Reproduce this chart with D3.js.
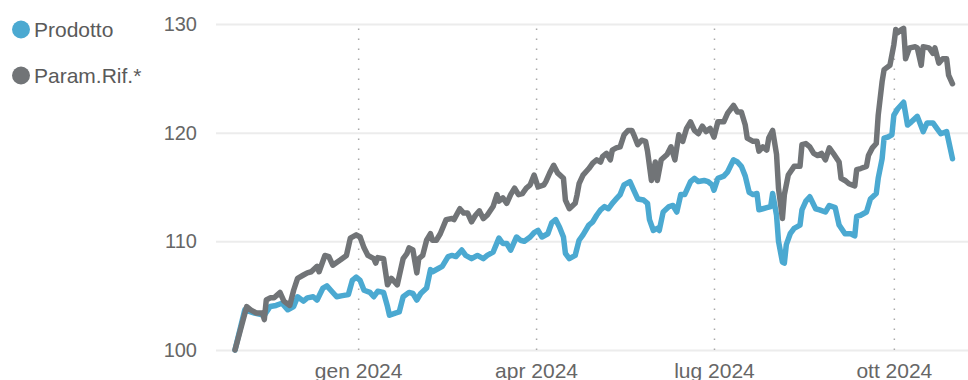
<!DOCTYPE html>
<html>
  <head>
    <meta charset="UTF-8">
    <title>Prodotto vs Param.Rif.</title>
    <style>
    body {
      margin: 0;
      background: #fff;
    }
    svg {
      display: block;
      font-family: "Liberation Sans", Arial, sans-serif;
    }
    .grid line {
      stroke: #ececec;
      stroke-width: 2px;
    }
    .yaxis text {
      font-size: 20px;
      fill: #666;
    }
    .xaxis text {
      font-size: 21px;
      fill: #666;
    }
    .xaxis line {
      stroke: #aaa;
      stroke-width: 1.5px;
      stroke-dasharray: 1.5 8.5;
    }
    .domain {
      display: none;
    }
    .legend text {
      font-size: 21px;
      fill: #5a5a5a;
    }
    .series {
      fill: none;
      stroke-width: 5.5px;
      stroke-linejoin: round;
      stroke-linecap: round;
    }
    </style>
  </head>
  <body>
    <svg width="968" height="380"></svg>
    <script src="https://d3js.org/d3.v7.min.js"></script>
    <script>
// legend / series names
var seriesNames = ["Prodotto", "Param.Rif.*"];
var seriesColors = ["#4ba9d1", "#717477"];

// y ticks and x ticks
var yTicks = [100, 110, 120, 130];
var xTicks = ["2024-01-01", "2024-04-01", "2024-07-01", "2024-10-01"];

// Prodotto
var prodDates = [
  "2023-10-30", "2023-11-04", "2023-11-09", "2023-11-14", "2023-11-17", "2023-11-20", "2023-11-23",
  "2023-11-26", "2023-11-29", "2023-12-01", "2023-12-04", "2023-12-06", "2023-12-09", "2023-12-11",
  "2023-12-14", "2023-12-16", "2023-12-18", "2023-12-21", "2023-12-24", "2023-12-27", "2023-12-29",
  "2023-12-31", "2024-01-02", "2024-01-04", "2024-01-07", "2024-01-09", "2024-01-11", "2024-01-14",
  "2024-01-16", "2024-01-17", "2024-01-20", "2024-01-22", "2024-01-24", "2024-01-27", "2024-01-29",
  "2024-01-31", "2024-02-02", "2024-02-05", "2024-02-07", "2024-02-08", "2024-02-11", "2024-02-13",
  "2024-02-16", "2024-02-18", "2024-02-20", "2024-02-23", "2024-02-25", "2024-02-28", "2024-03-02",
  "2024-03-05", "2024-03-07", "2024-03-10", "2024-03-13", "2024-03-15", "2024-03-17", "2024-03-19",
  "2024-03-22", "2024-03-24", "2024-03-26", "2024-03-29", "2024-03-31", "2024-04-02", "2024-04-04",
  "2024-04-07", "2024-04-09", "2024-04-11", "2024-04-13", "2024-04-15", "2024-04-16", "2024-04-18",
  "2024-04-21", "2024-04-23", "2024-04-25", "2024-04-28", "2024-04-30", "2024-05-02", "2024-05-04",
  "2024-05-06", "2024-05-08", "2024-05-10", "2024-05-12", "2024-05-14", "2024-05-16", "2024-05-19",
  "2024-05-21", "2024-05-23", "2024-05-26", "2024-05-28", "2024-05-29", "2024-05-31", "2024-06-02",
  "2024-06-03", "2024-06-05", "2024-06-08", "2024-06-10", "2024-06-12", "2024-06-14", "2024-06-16",
  "2024-06-17", "2024-06-19", "2024-06-21", "2024-06-23", "2024-06-26", "2024-06-28", "2024-06-30",
  "2024-07-01", "2024-07-03", "2024-07-06", "2024-07-08", "2024-07-11", "2024-07-13", "2024-07-15",
  "2024-07-17", "2024-07-19", "2024-07-21", "2024-07-23", "2024-07-24", "2024-07-26", "2024-07-28",
  "2024-07-30", "2024-07-31", "2024-08-02", "2024-08-03", "2024-08-05", "2024-08-06", "2024-08-07",
  "2024-08-09", "2024-08-11", "2024-08-14", "2024-08-15", "2024-08-17", "2024-08-19", "2024-08-22",
  "2024-08-24", "2024-08-27", "2024-08-29", "2024-09-01", "2024-09-03", "2024-09-06", "2024-09-09",
  "2024-09-11", "2024-09-12", "2024-09-14", "2024-09-17", "2024-09-19", "2024-09-22", "2024-09-23",
  "2024-09-25", "2024-09-26", "2024-09-28", "2024-09-30", "2024-10-01", "2024-10-03", "2024-10-06",
  "2024-10-08", "2024-10-10", "2024-10-13", "2024-10-16", "2024-10-18", "2024-10-21", "2024-10-23",
  "2024-10-25", "2024-10-28", "2024-10-31"
];
var prodValues = [
  100.0, 103.7, 103.4, 103.2, 104.0, 104.1, 104.3,
  103.7, 104.0, 104.9, 104.5, 104.8, 104.9, 104.6,
  105.7, 105.9, 105.5, 104.9, 105.0, 105.1, 106.4,
  106.7, 106.4, 105.5, 105.3, 104.9, 105.4, 105.3,
  104.0, 103.2, 103.4, 103.5, 104.9, 105.3, 105.2,
  104.6, 105.2, 105.7, 107.4, 107.2, 107.5, 107.7,
  108.6, 108.7, 108.6, 109.2, 108.7, 108.4, 108.7,
  108.4, 108.7, 109.0, 110.3, 109.8, 109.8, 109.2,
  110.4, 110.1, 110.0, 110.4, 110.8, 111.0, 110.4,
  110.7, 111.7, 112.0, 111.3, 110.4, 108.9, 108.4,
  108.7, 110.1, 110.6, 111.5, 111.8, 112.4, 112.9,
  113.2, 113.0, 113.5, 113.9, 114.3, 115.2, 115.5,
  114.7, 113.9, 113.8, 113.5, 112.0, 111.0, 111.2,
  111.0, 112.7, 113.2, 113.3, 112.7, 114.3, 114.3,
  114.7, 115.5, 115.8, 115.5, 115.6, 115.5, 115.2,
  114.7, 115.8, 116.0, 116.4, 117.5, 117.3, 116.9,
  116.0, 114.5, 114.3, 114.4, 112.9, 113.0, 113.1,
  113.2, 114.4, 112.4, 110.0, 108.1, 108.0, 109.7,
  110.7, 111.2, 111.5, 112.9, 113.7, 114.1, 113.0,
  112.9, 112.7, 113.3, 113.1, 111.5, 110.7, 110.7,
  110.5, 112.3, 112.4, 112.7, 113.9, 114.4, 115.8,
  117.6, 119.5, 119.6, 119.8, 121.6, 122.2, 122.8,
  120.7, 121.0, 121.5, 120.1, 120.9, 120.9, 120.4,
  119.9, 120.1, 117.6
];

// Param.Rif.*
var refDates = [
  "2023-10-30", "2023-11-05", "2023-11-07", "2023-11-10", "2023-11-13", "2023-11-14", "2023-11-15",
  "2023-11-17", "2023-11-19", "2023-11-22", "2023-11-24", "2023-11-27", "2023-11-29", "2023-12-01",
  "2023-12-04", "2023-12-06", "2023-12-08", "2023-12-11", "2023-12-12", "2023-12-15", "2023-12-17",
  "2023-12-19", "2023-12-23", "2023-12-26", "2023-12-28", "2023-12-31", "2024-01-02", "2024-01-04",
  "2024-01-06", "2024-01-09", "2024-01-10", "2024-01-11", "2024-01-14", "2024-01-16", "2024-01-18",
  "2024-01-21", "2024-01-22", "2024-01-24", "2024-01-26", "2024-01-27", "2024-01-29", "2024-01-31",
  "2024-02-01", "2024-02-03", "2024-02-05", "2024-02-07", "2024-02-08", "2024-02-10", "2024-02-12",
  "2024-02-15", "2024-02-18", "2024-02-19", "2024-02-22", "2024-02-24", "2024-02-26", "2024-02-28",
  "2024-03-01", "2024-03-03", "2024-03-05", "2024-03-07", "2024-03-10", "2024-03-12", "2024-03-13",
  "2024-03-15", "2024-03-17", "2024-03-19", "2024-03-21", "2024-03-23", "2024-03-25", "2024-03-27",
  "2024-03-29", "2024-03-31", "2024-04-02", "2024-04-05", "2024-04-06", "2024-04-08", "2024-04-10",
  "2024-04-12", "2024-04-15", "2024-04-16", "2024-04-18", "2024-04-21", "2024-04-22", "2024-04-23",
  "2024-04-25", "2024-04-28", "2024-04-30", "2024-05-02", "2024-05-04", "2024-05-05", "2024-05-07",
  "2024-05-09", "2024-05-10", "2024-05-12", "2024-05-14", "2024-05-16", "2024-05-18", "2024-05-20",
  "2024-05-21", "2024-05-23", "2024-05-25", "2024-05-27", "2024-05-28", "2024-05-30", "2024-06-01",
  "2024-06-02", "2024-06-04", "2024-06-07", "2024-06-09", "2024-06-11", "2024-06-13", "2024-06-15",
  "2024-06-17", "2024-06-19", "2024-06-21", "2024-06-23", "2024-06-25", "2024-06-27", "2024-06-29",
  "2024-07-01", "2024-07-03", "2024-07-06", "2024-07-08", "2024-07-11", "2024-07-13", "2024-07-15",
  "2024-07-17", "2024-07-18", "2024-07-21", "2024-07-23", "2024-07-24", "2024-07-26", "2024-07-28",
  "2024-07-29", "2024-07-31", "2024-08-02", "2024-08-03", "2024-08-05", "2024-08-06", "2024-08-08",
  "2024-08-11", "2024-08-14", "2024-08-15", "2024-08-17", "2024-08-19", "2024-08-21", "2024-08-23",
  "2024-08-25", "2024-08-27", "2024-08-29", "2024-08-31", "2024-09-03", "2024-09-04", "2024-09-06",
  "2024-09-08", "2024-09-11", "2024-09-12", "2024-09-14", "2024-09-17", "2024-09-18", "2024-09-20",
  "2024-09-22", "2024-09-23", "2024-09-25", "2024-09-26", "2024-09-29", "2024-10-01", "2024-10-02",
  "2024-10-03", "2024-10-05", "2024-10-06", "2024-10-07", "2024-10-09", "2024-10-12", "2024-10-13",
  "2024-10-15", "2024-10-16", "2024-10-19", "2024-10-21", "2024-10-22", "2024-10-24", "2024-10-26",
  "2024-10-28", "2024-10-29", "2024-10-31"
];
var refValues = [
  100.0, 104.0, 103.7, 103.4, 103.4, 102.8, 104.6,
  104.8, 104.8, 105.3, 104.5, 104.1, 105.5, 106.6,
  106.9, 107.1, 107.2, 107.7, 107.2, 108.7, 108.6,
  107.8, 108.3, 108.7, 110.3, 110.6, 110.4, 109.4,
  108.7, 108.4, 108.0, 108.5, 108.4, 106.0, 106.6,
  106.0, 106.8, 108.4, 108.9, 109.4, 109.2, 107.1,
  108.4, 108.7, 110.1, 110.7, 110.1, 110.1, 110.7,
  112.0, 112.1, 112.0, 113.0, 112.6, 112.6, 111.8,
  112.4, 112.8, 112.1, 112.4, 113.2, 114.3, 113.7,
  114.0, 113.5, 114.3, 114.9, 114.3, 114.4, 114.9,
  115.2, 116.1, 115.0, 115.2, 115.5, 116.3, 117.0,
  116.3, 115.8, 113.8, 113.0, 113.5, 114.3, 115.3,
  116.1, 116.7, 117.2, 117.5, 117.3, 117.8, 118.1,
  117.5, 118.4, 118.6, 118.7, 119.8, 120.2, 120.2,
  119.8, 118.9, 119.3, 119.2, 118.3, 115.6, 117.3,
  115.6, 117.5, 118.0, 118.7, 117.5, 119.8, 119.2,
  120.4, 121.0, 120.2, 119.9, 120.6, 120.1, 120.4,
  119.6, 121.0, 121.0, 121.8, 122.5, 121.9, 121.9,
  120.7, 119.5, 119.2, 119.2, 118.3, 118.7, 118.4,
  119.5, 120.2, 118.0, 114.9, 112.1, 114.3, 116.1,
  116.9, 116.9, 118.9, 119.0, 118.7, 118.1, 117.9,
  118.1, 117.5, 118.6, 118.1, 117.3, 115.8, 115.6,
  115.3, 115.1, 116.6, 116.7, 116.9, 117.9, 118.6,
  119.0, 121.6, 124.7, 125.8, 126.2, 128.1, 129.5,
  129.2, 129.5, 129.6, 126.8, 127.8, 127.9, 127.8,
  126.2, 127.9, 127.8, 127.3, 127.8, 126.4, 126.8,
  126.8, 125.3, 124.5
];

var parseDate = d3.timeParse("%Y-%m-%d");

var itLocale = d3.timeFormatLocale({
  dateTime: "%A %e %B %Y, %X",
  date: "%d/%m/%Y",
  time: "%H:%M:%S",
  periods: ["AM", "PM"],
  days: ["domenica", "lunedì", "martedì", "mercoledì", "giovedì", "venerdì", "sabato"],
  shortDays: ["dom", "lun", "mar", "mer", "gio", "ven", "sab"],
  months: ["gennaio", "febbraio", "marzo", "aprile", "maggio", "giugno", "luglio", "agosto", "settembre", "ottobre", "novembre", "dicembre"],
  shortMonths: ["gen", "feb", "mar", "apr", "mag", "giu", "lug", "ago", "set", "ott", "nov", "dic"]
});

var series = [
  {name: seriesNames[0], color: seriesColors[0],
   points: prodDates.map((d, i) => ({date: parseDate(d), value: prodValues[i]}))},
  {name: seriesNames[1], color: seriesColors[1],
   points: refDates.map((d, i) => ({date: parseDate(d), value: refValues[i]}))}
];

var svg = d3.select("svg"),
    width = +svg.attr("width"),
    plotLeft = 216,
    plotRight = width,
    plotTop = 24,
    plotBottom = 350;

var allDates = series[0].points.concat(series[1].points).map(d => d.date);

var x = d3.scaleTime()
    .domain(d3.extent(allDates))
    .range([235, 952.5]);

var y = d3.scaleLinear()
    .domain([100, 130])
    .range([plotBottom, plotTop]);

// horizontal grid + y labels
svg.append("g")
    .attr("class", "grid yaxis")
    .attr("transform", "translate(" + plotLeft + ",0)")
    .call(d3.axisLeft(y)
      .tickValues(yTicks)
      .tickSize(-(plotRight - plotLeft))
      .tickPadding(19)
      .tickFormat(d3.format("d")));

// dotted vertical lines + month labels
svg.append("g")
    .attr("class", "xaxis")
    .attr("transform", "translate(0," + plotBottom + ")")
    .call(d3.axisBottom(x)
      .tickValues(xTicks.map(parseDate))
      .tickSize(-(plotBottom - 28))
      .tickSizeOuter(0)
      .tickPadding(13)
      .tickFormat(itLocale.format("%b %Y")));

var line = d3.line()
    .x(d => x(d.date))
    .y(d => y(d.value));

svg.append("g")
  .selectAll("path")
  .data(series)
  .join("path")
    .attr("class", "series")
    .attr("stroke", d => d.color)
    .attr("d", d => line(d.points));

// legend
var legend = svg.append("g")
    .attr("class", "legend")
  .selectAll("g")
  .data(series)
  .join("g")
    .attr("transform", (d, i) => "translate(21," + (29.5 + i * 46) + ")");

legend.append("circle")
    .attr("r", 9)
    .attr("fill", d => d.color);

legend.append("text")
    .attr("x", 13)
    .attr("dy", "0.35em")
    .text(d => d.name);
    </script>
  </body>
</html>
